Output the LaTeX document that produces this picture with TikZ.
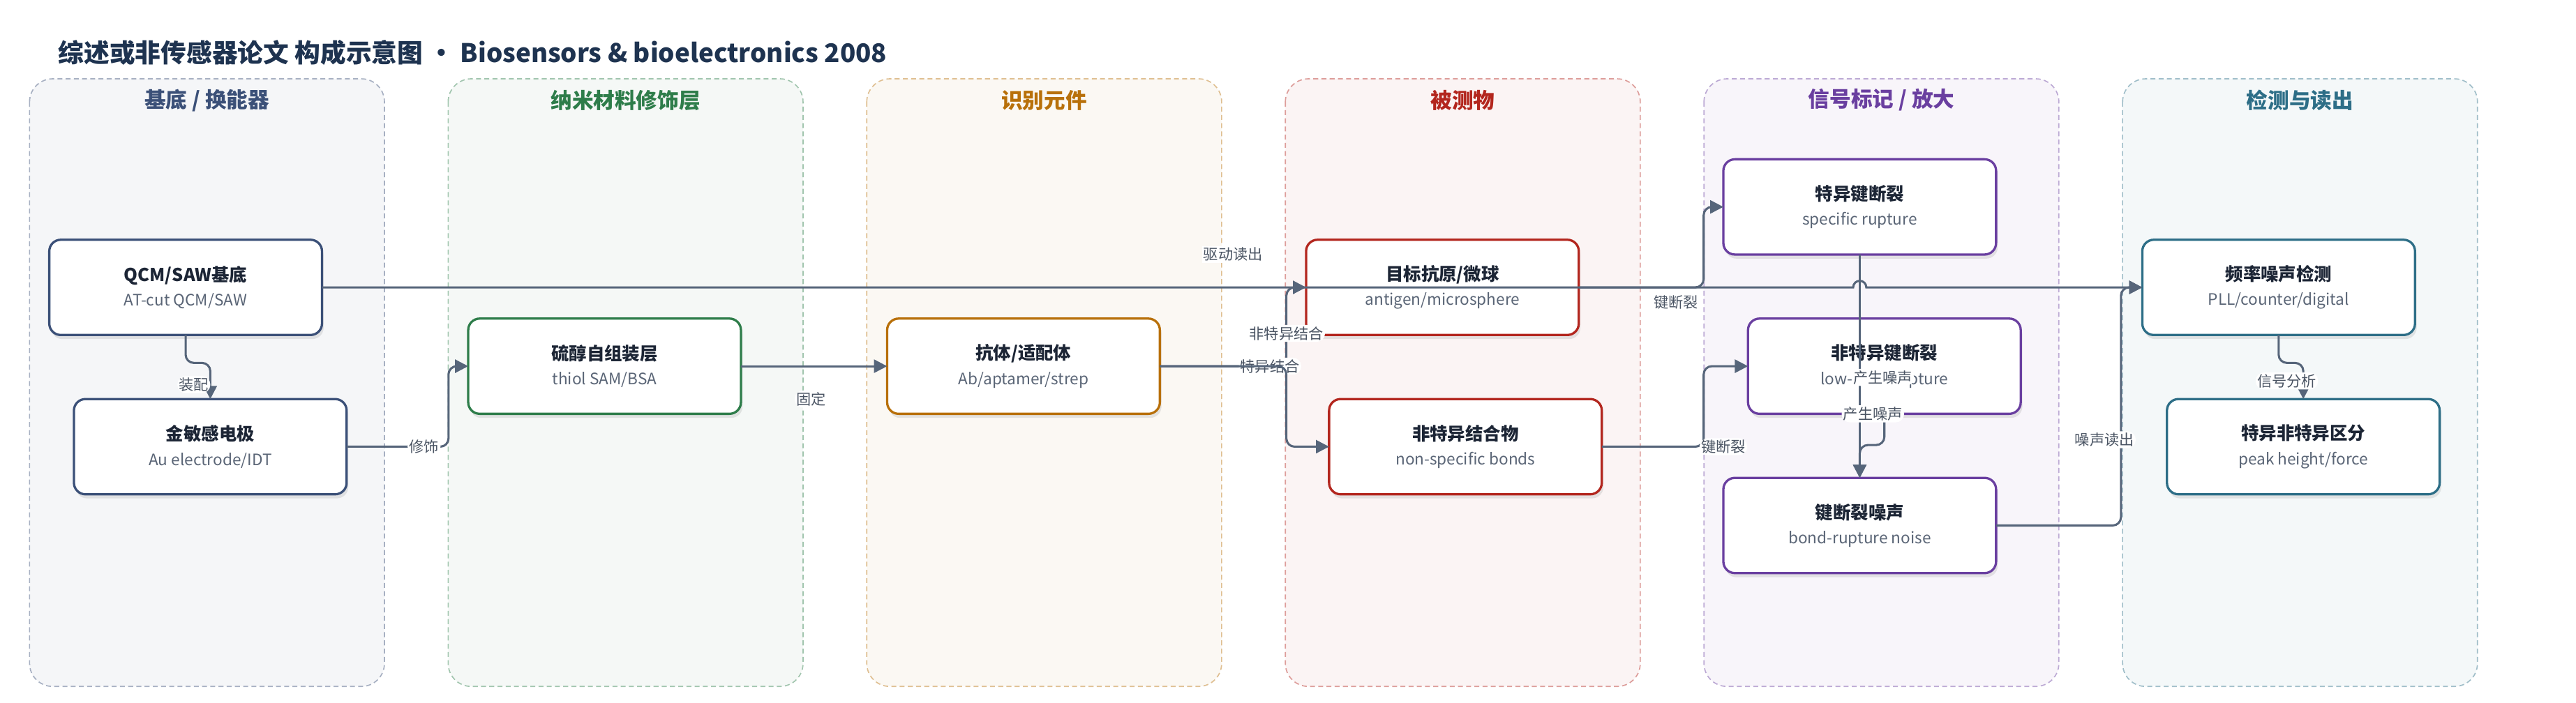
\documentclass[tikz,border=0pt]{standalone}
\usepackage{fontspec}
\setmainfont{Noto Sans CJK SC}
\usetikzlibrary{positioning,arrows.meta,shadows,calc}

\definecolor{head}{HTML}{1E3350}
\definecolor{ink}{HTML}{1C2535}
\definecolor{subink}{HTML}{5A6576}
\definecolor{lblink}{HTML}{4A5463}
\definecolor{wirec}{HTML}{56657A}
\definecolor{navy}{HTML}{3B5078}
\definecolor{leaf}{HTML}{2E7D4A}
\definecolor{amber}{HTML}{B8700A}
\definecolor{brick}{HTML}{B3261E}
\definecolor{grape}{HTML}{6A3FA0}
\definecolor{sea}{HTML}{2D6E87}

\newcommand{\sublabel}[1]{\\[1pt]{\mdseries\fontsize{9.6}{12}\selectfont\color{subink}#1}}

\begin{document}
\begin{tikzpicture}[x=1pt,y=1pt,
    box/.style={draw=#1,line width=1.4pt,fill=white,rounded corners=7pt,outer sep=0pt,
      minimum width=166pt,minimum height=58pt,align=center,text=ink,
      font=\fontsize{10.8}{14}\selectfont\bfseries,
      drop shadow={shadow xshift=1pt,shadow yshift=-2.5pt,opacity=0.18}},
    wire/.style={draw=wirec,line width=1.3pt,rounded corners=5pt,
      -{Triangle[length=8pt,width=8pt]}},
    lbl/.style={fill=white,inner sep=1pt,text=lblink,font=\fontsize{9}{10}\selectfont},
    lane/.style={draw=#1!45,fill=#1!5,dash pattern=on 3pt off 2pt,line width=0.7pt,rounded corners=14pt},
    lanetitle/.style={text=#1,font=\fontsize{13}{15}\selectfont\bfseries},
    node distance=39pt]
  \path[use as bounding box,fill=white] (0,0) rectangle (1568,-428);
  \node[anchor=west,text=head,font=\fontsize{15.6}{18}\selectfont\bfseries] (title) at (32,-32)
    {综述或非传感器论文 构成示意图 • Biosensors \& bioelectronics 2008};
  \foreach \i/\c/\t in {0/navy/{基底 / 换能器},1/leaf/纳米材料修饰层,2/amber/识别元件,
      3/brick/被测物,4/grape/{信号标记 / 放大},5/sea/检测与读出}{
    \draw[lane=\c] (18+254.8*\i,-48) rectangle ++(216,-370);
    \node[lanetitle=\c] (lane\i) at (126+254.8*\i,-61) {\t};
  }
  \node[box=navy] (qcm) at (113,-175) {QCM/SAW基底\sublabel{AT-cut QCM/SAW}};
  \node[box=navy,xshift=15pt] (au) [below=of qcm] {金敏感电极\sublabel{Au electrode/IDT}};
  \node[box=leaf,yshift=-48pt] (sam) [right=89pt of qcm] {硫醇自组装层\sublabel{thiol SAM/BSA}};
  \node[box=amber] (ab) [right=89pt of sam] {抗体/适配体\sublabel{Ab/aptamer/strep}};
  \node[box=brick,yshift=48pt] (ag) [right=89pt of ab] {目标抗原/微球\sublabel{antigen/microsphere}};
  \node[box=brick,xshift=14pt] (nsb) [below=of ag] {非特异结合物\sublabel{non-specific bonds}};
  \node[box=grape,yshift=49pt] (srup) [right=88pt of ag] {特异键断裂\sublabel{specific rupture}};
  \node[box=grape,xshift=15pt] (nrup) [below=of srup] {非特异键断裂\sublabel{low-force rupture}};
  \node[box=grape,xshift=-15pt] (noise) [below=of nrup] {键断裂噪声\sublabel{bond-rupture noise}};
  \node[box=sea,yshift=-49pt] (freq) [right=89pt of srup] {频率噪声检测\sublabel{PLL/counter/digital}};
  \node[box=sea,xshift=15pt] (peak) [below=of freq] {特异非特异区分\sublabel{peak height/force}};

  \draw[wire] (qcm.south) -- ++(0,-17pt) -| node[lbl,pos=0.8,xshift=-10pt]{装配} (au.north);
  \draw[wire] (au.east) -- node[lbl,pos=0.76]{修饰} ++(62pt,0) |- (sam.west);
  \draw[wire] (sam.east) -- node[lbl,pos=0.48,yshift=-20pt]{固定} (ab.west);
  \draw[wire] (ab.east) -- node[lbl,pos=0.87]{特异结合} ++(77pt,0) |- (ag.west);
  \draw[wire] (ab.east) -- node[lbl,pos=1,yshift=20pt]{非特异结合} ++(77pt,0) |- (nsb.west);
  \draw[wire] (ag.east) -- node[lbl,pos=0.78,yshift=-9pt]{键断裂} ++(76pt,0) |- (srup.west);
  \draw[wire] (nsb.east) -- node[lbl,pos=1,xshift=12pt]{键断裂} ++(62pt,0) |- (nrup.west);
  \draw[wire] (srup.south) -- node[lbl,pos=0.55,xshift=14pt]{产生噪声} (noise.north);
  \draw[wire] (nrup.south) -- node[lbl,pos=0,xshift=-7pt]{产生噪声} ++(0,-19pt) -| (noise.north);
  \draw[wire,sharp corners] (qcm.east) -- node[lbl,pos=0.595,yshift=20pt]{驱动读出}
    ($(srup.south |- qcm.east)+(-4pt,0)$) arc[start angle=180,end angle=0,radius=4pt] -- (freq.west);
  \draw[wire] (noise.east) -- ++(76pt,0) |- node[lbl,pos=0.18,xshift=-10pt]{噪声读出} (freq.west);
  \draw[wire] (freq.south) -- ++(0,-17pt) -| node[lbl,pos=0.75,xshift=-10pt]{信号分析} (peak.north);
\end{tikzpicture}
\end{document}
